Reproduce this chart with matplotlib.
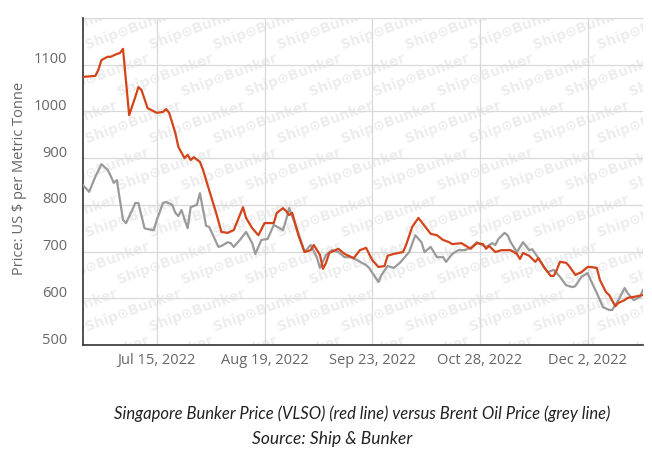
import matplotlib
matplotlib.use("Agg")
import matplotlib.pyplot as plt
from matplotlib.transforms import ScaledTranslation
import pandas as pd

# ---- data ----
vlso_dates = ["2022-06-21", "2022-06-25", "2022-06-26", "2022-06-27", "2022-06-29", "2022-06-30",
              "2022-07-02", "2022-07-03", "2022-07-04", "2022-07-06", "2022-07-08", "2022-07-09",
              "2022-07-10", "2022-07-12", "2022-07-15", "2022-07-17", "2022-07-18", "2022-07-19",
              "2022-07-21", "2022-07-22", "2022-07-24", "2022-07-25", "2022-07-26", "2022-07-27",
              "2022-07-29", "2022-07-30", "2022-07-31", "2022-08-02", "2022-08-03", "2022-08-05",
              "2022-08-07", "2022-08-09", "2022-08-12", "2022-08-13", "2022-08-15", "2022-08-17",
              "2022-08-19", "2022-08-22", "2022-08-23", "2022-08-25", "2022-08-26", "2022-08-27",
              "2022-08-28", "2022-08-30", "2022-09-01", "2022-09-03", "2022-09-04", "2022-09-06",
              "2022-09-07", "2022-09-08", "2022-09-09", "2022-09-12", "2022-09-14", "2022-09-17",
              "2022-09-19", "2022-09-21", "2022-09-23", "2022-09-25", "2022-09-27", "2022-09-28",
              "2022-09-30", "2022-10-03", "2022-10-04", "2022-10-06", "2022-10-08", "2022-10-10",
              "2022-10-12", "2022-10-14", "2022-10-16", "2022-10-18", "2022-10-19", "2022-10-22",
              "2022-10-23", "2022-10-25", "2022-10-27", "2022-10-29", "2022-10-30", "2022-10-31",
              "2022-11-02", "2022-11-04", "2022-11-07", "2022-11-09", "2022-11-10", "2022-11-11",
              "2022-11-13", "2022-11-15", "2022-11-16", "2022-11-18", "2022-11-20", "2022-11-21",
              "2022-11-22", "2022-11-23", "2022-11-25", "2022-11-26", "2022-11-28", "2022-11-30",
              "2022-12-02", "2022-12-03", "2022-12-05", "2022-12-06", "2022-12-08", "2022-12-09",
              "2022-12-11", "2022-12-12", "2022-12-14", "2022-12-15", "2022-12-17", "2022-12-20"]
vlso_prices = [1074, 1076, 1089, 1110, 1117, 1117,
               1123, 1125, 1134, 992, 1031, 1052,
               1046, 1007, 997, 999, 1005, 997,
               954, 924, 900, 907, 896, 902,
               892, 875, 853, 810, 789, 742,
               740, 746, 795, 772, 750, 735,
               761, 761, 783, 793, 787, 778,
               783, 735, 699, 703, 714, 693,
               663, 676, 697, 706, 695, 686,
               703, 708, 682, 667, 669, 691,
               695, 699, 714, 753, 772, 755,
               738, 735, 725, 720, 716, 718,
               714, 706, 718, 716, 706, 712,
               699, 703, 703, 695, 684, 697,
               691, 678, 686, 665, 648, 648,
               661, 678, 676, 669, 650, 656,
               667, 667, 665, 639, 613, 607,
               583, 590, 596, 601, 603, 607]

brent_dates = ["2022-06-21", "2022-06-23", "2022-06-25", "2022-06-27", "2022-06-29", "2022-06-30",
               "2022-07-01", "2022-07-02", "2022-07-04", "2022-07-05", "2022-07-07", "2022-07-08",
               "2022-07-09", "2022-07-11", "2022-07-12", "2022-07-14", "2022-07-15", "2022-07-17",
               "2022-07-18", "2022-07-20", "2022-07-21", "2022-07-22", "2022-07-23", "2022-07-25",
               "2022-07-26", "2022-07-28", "2022-07-29", "2022-07-31", "2022-08-01", "2022-08-04",
               "2022-08-05", "2022-08-07", "2022-08-08", "2022-08-09", "2022-08-11", "2022-08-13",
               "2022-08-15", "2022-08-16", "2022-08-18", "2022-08-20", "2022-08-22", "2022-08-25",
               "2022-08-26", "2022-08-27", "2022-08-30", "2022-09-01", "2022-09-03", "2022-09-05",
               "2022-09-06", "2022-09-08", "2022-09-10", "2022-09-12", "2022-09-14", "2022-09-16",
               "2022-09-18", "2022-09-21", "2022-09-22", "2022-09-25", "2022-09-26", "2022-09-28",
               "2022-09-30", "2022-10-02", "2022-10-05", "2022-10-07", "2022-10-09", "2022-10-10",
               "2022-10-12", "2022-10-14", "2022-10-16", "2022-10-17", "2022-10-19", "2022-10-21",
               "2022-10-23", "2022-10-25", "2022-10-27", "2022-10-28", "2022-10-30", "2022-11-01",
               "2022-11-02", "2022-11-03", "2022-11-05", "2022-11-06", "2022-11-07", "2022-11-09",
               "2022-11-11", "2022-11-13", "2022-11-14", "2022-11-16", "2022-11-18", "2022-11-19",
               "2022-11-21", "2022-11-23", "2022-11-25", "2022-11-27", "2022-11-28", "2022-11-30",
               "2022-12-02", "2022-12-03", "2022-12-05", "2022-12-07", "2022-12-09", "2022-12-10",
               "2022-12-12", "2022-12-14", "2022-12-15", "2022-12-17", "2022-12-19", "2022-12-20"]
brent_prices = [842, 828, 860, 887, 875, 862,
                847, 853, 768, 761, 789, 804,
                804, 750, 748, 746, 768, 804,
                806, 800, 783, 776, 789, 750,
                795, 800, 825, 755, 753, 710,
                712, 720, 718, 710, 725, 742,
                718, 695, 725, 727, 757, 746,
                768, 793, 740, 699, 714, 688,
                665, 693, 703, 699, 688, 688,
                682, 671, 665, 635, 650, 669,
                665, 676, 699, 735, 720, 699,
                710, 688, 688, 678, 695, 703,
                703, 708, 720, 716, 710, 718,
                714, 727, 740, 735, 720, 699,
                720, 703, 705, 686, 665, 656,
                661, 646, 628, 624, 626, 646,
                654, 639, 611, 581, 575, 575,
                596, 622, 611, 596, 603, 618]

y_ticks = [500, 600, 700, 800, 900, 1000, 1100, 1200]
y_tick_labels = ["500", "600", "700", "800", "900", "1000", "1100", ""]
x_tick_dates = ["2022-07-15", "2022-08-19", "2022-09-23", "2022-10-28", "2022-12-02"]
x_tick_labels = ["Jul 15, 2022", "Aug 19, 2022", "Sep 23, 2022", "Oct 28, 2022", "Dec 2, 2022"]
x_range = ["2022-06-21", "2022-12-20"]
y_range = [500, 1200]
y_label = "Price: US $ per Metric Tonne"
caption1 = "Singapore Bunker Price (VLSO) (red line) versus Brent Oil Price (grey line)"
caption2 = "Source: Ship & Bunker"
watermark = "Ship\u2299Bunker"

# ---- figure ----
W, H, DPI = 652, 459, 100
fig = plt.figure(figsize=(W / DPI, H / DPI), dpi=DPI)
fig.patch.set_facecolor("white")
L, R, T, B = 83, 643, 18, 345
AW, AH = R - L, B - T
ax = fig.add_axes([L / W, (H - B) / H, AW / W, AH / H])

ax.set_xlim(pd.to_datetime(x_range[0]), pd.to_datetime(x_range[1]))
ax.set_ylim(*y_range)

# watermark tiles across the whole plot area, clipped to it
for row in range(-1, 9):
    for col in range(-1, 11):
        xf = (col * 64 + (row % 2) * 32) / AW
        yf = 1 - (row * 47 + 10) / AH
        t = ax.text(xf, yf, watermark, transform=ax.transAxes, rotation=20,
                    fontsize=10, fontweight="bold", color="#ededed", ha="left", va="center",
                    family="DejaVu Sans", zorder=0.5, clip_on=True)
        t.set_clip_box(ax.bbox)

ax.grid(True, color="#d8d8d8", linewidth=0.9, zorder=1)
ax.set_axisbelow(True)

ax.plot(pd.to_datetime(brent_dates), brent_prices, color="#9a9a9a", linewidth=1.6, zorder=3,
        solid_joinstyle="round")
ax.plot(pd.to_datetime(vlso_dates), vlso_prices, color="#d4441a", linewidth=1.6, zorder=4,
        solid_joinstyle="round")

ax.set_yticks(y_ticks)
ax.set_yticklabels(y_tick_labels)
ax.set_xticks(pd.to_datetime(x_tick_dates))
ax.set_xticklabels(x_tick_labels)
ax.tick_params(axis="both", length=0, colors="#666666", labelsize=10.5)
ax.tick_params(axis="x", pad=6)
ax.tick_params(axis="y", pad=11.5)
for lab in ax.get_yticklabels():
    lab.set_family("Open Sans")
    lab.set_transform(lab.get_transform() + ScaledTranslation(0, 7 / DPI, fig.dpi_scale_trans))
for lab in ax.get_xticklabels():
    lab.set_family("Open Sans")

for s in ["top", "right"]:
    ax.spines[s].set_visible(False)
for s in ["left", "bottom"]:
    ax.spines[s].set_color("#333333")
    ax.spines[s].set_linewidth(1.2)

fig.text(20 / W, 1 - 178 / H, y_label, rotation=90, ha="center", va="center",
         color="#666666", fontsize=10.5, family="Open Sans")

fig.text(362 / W, 1 - 414 / H, caption1, ha="center", va="center", style="italic",
         fontsize=12, color="#222222", family="Lato")
fig.text(332 / W, 1 - 439 / H, caption2, ha="center", va="center", style="italic",
         fontsize=12.5, color="#222222", family="Lato")

fig.savefig("out.png", dpi=DPI, facecolor="white")
